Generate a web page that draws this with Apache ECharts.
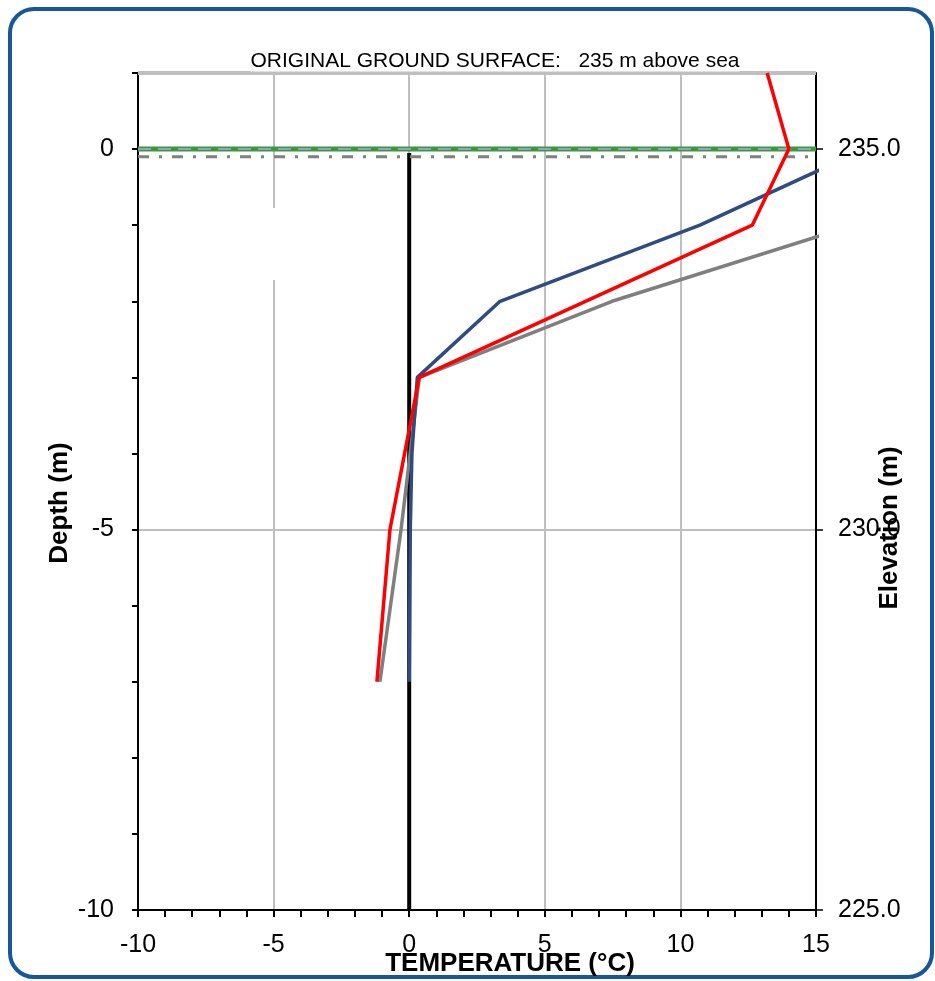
<!DOCTYPE html>
<html>
<head>
<meta charset="utf-8">
<script src="https://cdn.jsdelivr.net/npm/echarts@6/dist/echarts.min.js"></script>
<style>
html,body{margin:0;padding:0;background:#fff;}
#chart{width:935px;height:981px;}
</style>
</head>
<body>
<div id="chart"></div>
<script>
// ---- data (temperature °C, depth m) ----
const tempTicks = [-10, -5, 0, 5, 10, 15];
const depthTicks = [-10, -5, 0];
const elevTicks = [225, 230, 235];

const redDepth = [1, 0, -1, -3, -5, -7];
const redTemp  = [13.2, 14.0, 12.65, 0.37, -0.71, -1.19];

const blueDepth = [0, -1, -2, -3, -4, -5, -6, -7];
const blueTemp  = [16.8, 10.72, 3.35, 0.3, 0.1, 0.04, 0.02, 0.0];

const greyDepth = [-1, -2, -3, -5, -7];
const greyTemp  = [16.4, 7.48, 0.37, -0.3, -1.08];

const zeroLineDepth = [-0.05, -10];
const zeroLineTemp  = [0, 0];

const surfaceDepth = 0;      // original ground surface
const datumDepth = -0.1;     // dash-dot reference
const topDepth = 1;

const groundElevation = 235;

const xMin = -10, xMax = 15, yMin = -10, yMax = 1;

function pairs(xs, ys){ return xs.map((x,i)=>[x, ys[i]]); }
function hline(d){ return [[xMin, d],[xMax, d]]; }

const FONT = '"Liberation Sans", Arial, sans-serif';
const chart = echarts.init(document.getElementById('chart'));

const option = {
  animation: false,
  backgroundColor: '#ffffff',
  grid: {left: 138, right: 119, top: 73, bottom: 71, containLabel: false},
  xAxis: {
    type: 'value', min: xMin, max: xMax, interval: 1,
    axisLine: {show: true, onZero: false, lineStyle: {color: '#000', width: 2}},
    axisTick: {show: true, inside: false, length: 7, lineStyle: {color: '#000', width: 2}},
    axisLabel: {
      margin: 23, color: '#000', fontFamily: FONT, fontSize: 25,
      formatter: v => tempTicks.includes(v) ? String(v) : ''
    },
    splitLine: {show: true, lineStyle: {color: ['#BFBFBF','rgba(0,0,0,0)','rgba(0,0,0,0)','rgba(0,0,0,0)','rgba(0,0,0,0)'], width: 2}}
  },
  yAxis: [{
    type: 'value', min: yMin, max: yMax, interval: 1, position: 'left',
    axisLine: {show: true, onZero: false, lineStyle: {color: '#000', width: 2}},
    axisTick: {show: true, inside: false, length: 6, lineStyle: {color: '#000', width: 2}},
    axisLabel: {
      margin: 24, color: '#000', fontFamily: FONT, fontSize: 25,
      formatter: v => depthTicks.includes(v) ? String(v) : ''
    },
    splitLine: {show: true, lineStyle: {color: ['#BFBFBF','rgba(0,0,0,0)','rgba(0,0,0,0)','rgba(0,0,0,0)','rgba(0,0,0,0)'], width: 2}}
  }, {
    type: 'value', min: groundElevation + yMin, max: groundElevation + yMax, interval: 5, position: 'right',
    axisLine: {show: true, onZero: false, lineStyle: {color: '#000', width: 2}},
    axisTick: {show: true, inside: false, length: 7, customValues: elevTicks, lineStyle: {color: '#000', width: 1.5}},
    axisLabel: {
      margin: 22, color: '#000', fontFamily: FONT, fontSize: 25, customValues: elevTicks,
      formatter: v => elevTicks.includes(v) ? v.toFixed(1) : ''
    },
    splitLine: {show: false}
  }],
  graphic: [
    {type: 'rect', z: 1, shape: {x: 266, y: 208, width: 13, height: 72}, style: {fill: '#fff'}},
    {type: 'rect', z: 100, shape: {x: 10, y: 9, width: 922, height: 968, r: 24},
     style: {fill: 'none', stroke: '#16579A', lineWidth: 4}},
    {type: 'text', z: 100, x: 495, y: 61,
     style: {text: 'ORIGINAL GROUND SURFACE:   ' + groundElevation + ' m above sea', font: '21px ' + FONT,
             fill: '#000', align: 'center', verticalAlign: 'middle', backgroundColor: '#fff'}},
    {type: 'text', z: 100, x: 510, y: 964,
     style: {text: 'TEMPERATURE (°C)', font: 'bold 26px ' + FONT, fill: '#000', align: 'center', verticalAlign: 'middle'}},
    {type: 'text', z: 100, x: 60, y: 503, rotation: Math.PI/2,
     style: {text: 'Depth (m)', font: 'bold 26px ' + FONT, fill: '#000', align: 'center', verticalAlign: 'middle'}},
    {type: 'text', z: 100, x: 890, y: 528, rotation: Math.PI/2,
     style: {text: 'Elevation (m)', font: 'bold 26px ' + FONT, fill: '#000', align: 'center', verticalAlign: 'middle'}}
  ],
  series: [
    {name: 'top', type: 'line', data: hline(topDepth), symbol: 'none', z: 2,
     lineStyle: {color: '#BFBFBF', width: 4}},
    {name: 'zero', type: 'line', data: pairs(zeroLineTemp, zeroLineDepth), symbol: 'none', z: 3,
     lineStyle: {color: '#000', width: 4}},
    {name: 'datum', type: 'line', data: hline(datumDepth), symbol: 'none', z: 3,
     lineStyle: {color: '#808080', width: 3, type: [11, 10, 3, 10]}},
    {name: 'surface', type: 'line', data: hline(surfaceDepth), symbol: 'none', z: 3,
     lineStyle: {color: '#3A9A3A', width: 5}},
    {name: 'surfaceDash', type: 'line', data: hline(surfaceDepth), symbol: 'none', z: 3,
     lineStyle: {color: '#8FA3C3', width: 2, type: [13, 7]}},
    {name: 'grey', type: 'line', data: pairs(greyTemp, greyDepth), symbol: 'none', z: 4, clip: true,
     lineStyle: {color: '#7F7F7F', width: 3.5}},
    {name: 'blue', type: 'line', data: pairs(blueTemp, blueDepth), symbol: 'none', z: 5, clip: true,
     lineStyle: {color: '#2E4C80', width: 3.5}},
    {name: 'red', type: 'line', data: pairs(redTemp, redDepth), symbol: 'none', z: 6, clip: true,
     lineStyle: {color: '#FF0000', width: 3.5}}
  ]
};
chart.setOption(option);
</script>
</body>
</html>
